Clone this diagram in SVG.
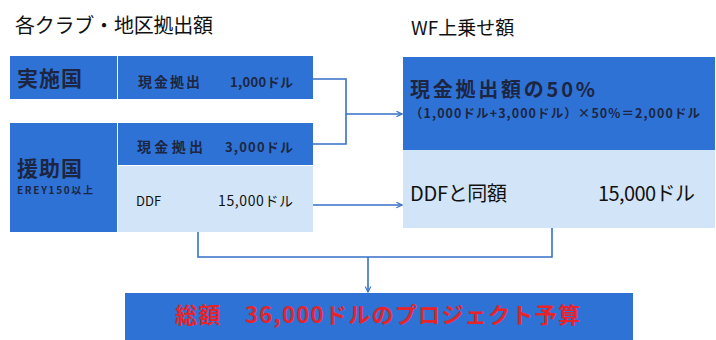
<svg xmlns="http://www.w3.org/2000/svg" width="716" height="340" viewBox="0 0 716 340">
<defs>
<style>
.t{font-family:"Noto Sans CJK JP","Noto Sans",sans-serif;}
.dark{fill:#2f72d5;}
.light{fill:#d2e4f7;}
.bl{fill:#1c2642;font-weight:bold;}
.c{stroke:#3670c9;stroke-width:1.6;fill:none;}
</style>
<marker id="ah" viewBox="0 0 10 10" refX="9" refY="5" markerWidth="7" markerHeight="7" orient="auto" markerUnits="userSpaceOnUse">
<path d="M1,1 L9,5 L1,9" fill="none" stroke="#3670c9" stroke-width="1.6"/>
</marker>
</defs>
<rect width="716" height="340" fill="#ffffff"/>
<text class="t" x="15" y="33" font-size="20" fill="#111" textLength="198">各クラブ・地区拠出額</text>
<text class="t" x="411" y="35" font-size="19" fill="#111">WF上乗せ額</text>

<g id="jisshi">
<rect class="dark" x="10" y="56" width="107" height="43"/>
<text class="t bl" x="17" y="86" font-size="21" textLength="65">実施国</text>
</g>
<g id="jisshi-cash">
<rect class="dark" x="118" y="56" width="195" height="43"/>
<text class="t bl" x="138" y="87" font-size="14" textLength="62">現金拠出</text>
<text class="t bl" x="230" y="87" font-size="13" textLength="63">1,000ドル</text>
</g>

<g id="enjo">
<rect class="dark" x="10" y="123" width="107" height="109"/>
<text class="t bl" x="17" y="176" font-size="21" textLength="65">援助国</text>
<text class="t bl" x="17" y="194" font-size="10" textLength="76">EREY150以上</text>
</g>
<g id="enjo-cash">
<rect class="dark" x="118" y="123" width="195" height="42"/>
<text class="t bl" x="137" y="152" font-size="14" textLength="66">現金拠出</text>
<text class="t bl" x="225" y="152" font-size="13" textLength="68">3,000ドル</text>
</g>
<g id="enjo-ddf">
<rect class="light" x="118" y="166" width="195" height="66"/>
<text class="t" x="136" y="206" font-size="13" fill="#111">DDF</text>
<text class="t" x="218" y="206" font-size="14" fill="#111" textLength="75">15,000ドル</text>
</g>

<g id="wf-cash">
<rect class="dark" x="403" y="57" width="312" height="93"/>
<text class="t bl" x="410" y="97" font-size="20" textLength="185">現金拠出額の50%</text>
<text class="t bl" x="410" y="118" font-size="12.5" textLength="290">（1,000ドル+3,000ドル）×50%＝2,000ドル</text>
</g>
<g id="wf-ddf">
<rect class="light" x="403" y="150" width="312" height="78"/>
<text class="t" x="410" y="201" font-size="20" fill="#111" textLength="97">DDFと同額</text>
<text class="t" x="598" y="201" font-size="20" fill="#111" textLength="97">15,000ドル</text>
</g>

<g id="total">
<rect class="dark" x="125" y="293" width="508" height="47"/>
<text class="t" x="175" y="323" font-size="22" font-weight="bold" fill="#e5242b" textLength="405">総額　36,000ドルのプロジェクト予算</text>
</g>

<g id="connectors">
<polyline class="c" points="313,79 346,79 346,144 313,144"/>
<line class="c" x1="346" y1="114" x2="402" y2="114" marker-end="url(#ah)"/>
<line class="c" x1="313" y1="205" x2="402" y2="205" marker-end="url(#ah)"/>
<polyline class="c" points="198,232 198,257 552,257 552,228"/>
<line class="c" x1="368" y1="257" x2="368" y2="292" marker-end="url(#ah)"/>
</g>
</svg>
